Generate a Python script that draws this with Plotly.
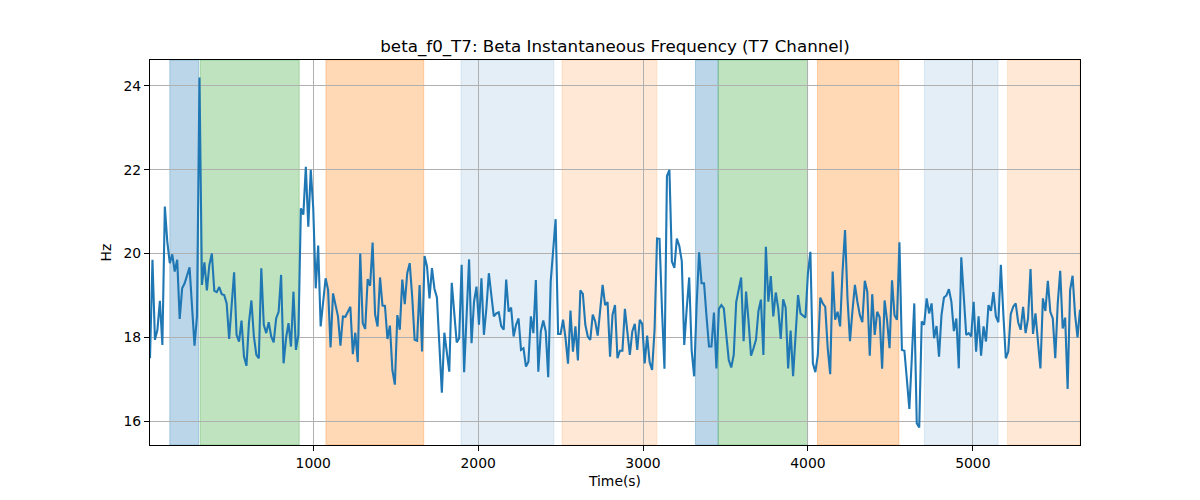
import plotly.graph_objects as go

# ---- data ----
t_start = 10.0      # s
t_step = 15.0       # s between samples

freq_hz = [
    # segment 1
    17.5, 19.85, 17.94, 18.18, 18.87, 17.82, 21.12, 20.28, 19.77, 19.98, 19.57, 19.85, 18.44, 19.17, 19.29,
    19.51, 19.67, 18.73, 17.80, 18.5, 24.2, 19.25, 19.79, 19.12, 19.73, 20.0, 19.11, 19.08, 19.2, 19.03,
    19.01, 18.81, 17.96, 18.76, 19.55, 18.06, 17.9, 18.4, 17.54, 17.32, 18.34, 18.88, 18.02, 17.58, 17.5,
    19.65, 18.3, 18.1, 18.36, 18.02, 17.88, 18.45, 18.61, 19.49, 17.38, 17.98, 18.34, 17.78, 19.09, 17.7,
    18.06, 21.08, 20.93,
    # segment 2
    22.07, 20.64, 22.0, 21.08, 19.17, 20.19, 18.26, 18.8, 19.41, 19.13, 17.76, 19.05, 18.73, 18.5, 17.8,
    18.5, 18.49, 18.63, 18.73, 17.6, 18.11, 17.41, 20.0, 18.34, 18.2, 19.39, 19.23, 20.26, 18.55, 18.26,
    19.43, 18.76, 18.75, 17.96, 18.28, 17.22, 16.87, 18.53, 18.18, 19.38, 18.79, 19.53, 19.77, 18.97, 17.94,
    17.92, 19.25, 17.66, 19.94, 19.69, 18.93, 19.65, 19.16, 18.95, 17.82, 16.68, 18.11, 17.62, 17.18, 19.3,
    18.61, 17.88,
    # segment 3
    17.98, 19.73, 17.17, 18.69, 19.86, 17.86, 18.85, 19.21, 18.3, 19.41, 18.06, 18.69, 19.53, 19.01, 18.5,
    18.57, 18.6, 18.27, 18.18, 19.38, 18.61, 18.71, 18.02, 18.3, 18.45, 17.7, 17.74, 17.3, 17.42, 18.5,
    18.1, 19.37, 17.18, 18.14, 18.4, 18.14, 17.05, 19.33, 20.12, 20.82, 18.08, 18.08, 18.42, 17.98, 17.37,
    18.64, 17.66, 18.26, 17.45, 19.12, 19.04, 18.3, 18.02, 17.94, 18.54, 18.38, 18.04, 18.66, 19.25, 18.77,
    18.84, 17.54,
    # segment 4
    18.54, 18.77, 17.5, 17.68, 17.68, 18.68, 18.14, 17.58, 18.14, 18.32, 17.7, 18.42, 18.32, 17.38, 18.04,
    17.41, 17.22, 18.18, 20.36, 20.35, 18.66, 17.25, 21.85, 22.0, 19.81, 19.66, 20.36, 20.18, 19.82, 17.82,
    18.69, 19.43, 17.68, 17.07, 18.77, 20.03, 19.29, 19.29, 18.5, 17.78, 17.78, 18.59, 17.26, 18.68, 18.77,
    18.69, 18.06, 17.46, 17.28, 17.58, 18.84, 19.16, 19.43, 17.91, 19.09, 18.38, 17.56, 17.74, 17.94, 18.63,
    18.9, 17.58, 20.16,
    # segment 5
    18.85, 19.46, 18.5, 19.07, 18.69, 17.96, 18.91, 18.71, 17.26, 18.16, 17.07, 18.1, 19.01, 18.57, 18.52,
    18.47, 19.53, 20.04, 17.38, 17.17, 17.58, 18.95, 18.81, 18.73, 17.74, 17.12, 19.57, 18.42, 18.61, 18.26,
    19.57, 20.56, 18.93, 17.91, 18.63, 19.25, 18.85, 18.53, 18.36, 19.35, 19.09, 17.56, 19.03, 18.06, 18.61,
    18.48, 17.25, 18.88, 18.4, 17.74, 19.36, 18.53, 18.42, 20.27, 17.7, 17.68, 17.0, 16.29, 17.5, 18.81,
    15.95, 15.85,
    # segment 6
    18.38, 18.3, 18.93, 18.57, 18.81, 17.98, 18.27, 17.54, 18.53, 18.95, 19.0, 19.15, 18.85, 18.15, 18.45,
    17.26, 19.91, 19.01, 18.06, 18.1, 18.02, 18.85, 17.66, 18.5, 17.56, 18.26, 17.9, 18.77, 18.63, 19.08,
    18.5, 18.36, 19.73, 18.57, 17.5, 17.66, 18.55, 18.73, 18.81, 18.36, 18.18, 18.73, 18.1, 18.45, 19.63,
    18.08, 18.57, 17.9, 17.26, 18.93, 18.63, 19.35, 18.61, 18.45, 17.5, 18.81, 19.59, 18.21, 18.47, 16.77,
    19.13, 19.47, 18.55, 18.0, 18.66,
]

time_s = [t_start + i * t_step for i in range(len(freq_hz))]

# shaded intervals (start, end, kind)
span_starts = [130, 314, 1077, 1896, 2509, 3318, 3456, 4058, 4706, 5211]
span_ends = [305, 915, 1670, 2459, 3084, 3456, 3998, 4552, 5153, 5650]
span_kinds = ["blue", "green", "orange", "lightblue", "lightorange",
              "blue", "green", "orange", "lightblue", "lightorange"]

x_ticks = [1000, 2000, 3000, 4000, 5000]
y_ticks = [16, 18, 20, 22, 24]

# ---- styles ----
kind_colors = {
    "blue": "rgba(31,119,180,0.3)",
    "green": "rgba(44,160,44,0.3)",
    "orange": "rgba(255,127,14,0.3)",
    "lightblue": "rgba(31,119,180,0.12)",
    "lightorange": "rgba(255,127,14,0.17)",
}

fig = go.Figure()
fig.add_trace(go.Scatter(
    x=time_s, y=freq_hz, mode="lines",
    line=dict(color="#1f77b4", width=2.1),
    showlegend=False,
))

x_end = time_s[-1]
for s, e, k in zip(span_starts, span_ends, span_kinds):
    fig.add_shape(
        type="rect", xref="x", yref="paper",
        x0=s, x1=min(e, x_end), y0=0, y1=1,
        fillcolor=kind_colors[k],
        line=dict(color=kind_colors[k], width=1),
        layer="below",
    )

font = "DejaVu Sans, Arial, sans-serif"
axis_common = dict(
    showline=True, linecolor="black", linewidth=1.1, mirror=True,
    ticks="outside", ticklen=5, tickwidth=1.1, tickcolor="black",
    showgrid=True, gridcolor="#b0b0b0", gridwidth=1.1,
    zeroline=False,
    tickfont=dict(family=font, size=13.9, color="black"),
)

# the page body adds an 8px offset; compensate so the plot area lands where the reference has it
fig_w, fig_h = 1192, 492
fig.update_layout(
    width=fig_w, height=fig_h,
    margin=dict(l=142, r=120, t=52, b=55),
    paper_bgcolor="white", plot_bgcolor="white",
    font=dict(family=font, color="black"),
    title=dict(
        text="beta_f0_T7: Beta Instantaneous Frequency (T7 Channel)",
        x=607 / fig_w, xref="container", xanchor="center",
        y=1 - 38 / fig_h, yref="container", yanchor="middle",
        font=dict(family=font, size=16.7, color="black"),
    ),
    xaxis=dict(
        range=[time_s[0], x_end], tickvals=x_ticks,
        title=dict(text="Time(s)", font=dict(family=font, size=13.9), standoff=6),
        **axis_common,
    ),
    yaxis=dict(
        range=[15.43, 24.62], tickvals=y_ticks,
        title=dict(text="Hz", font=dict(family=font, size=13.9), standoff=8),
        **axis_common,
    ),
)

fig.write_html("out.html")
